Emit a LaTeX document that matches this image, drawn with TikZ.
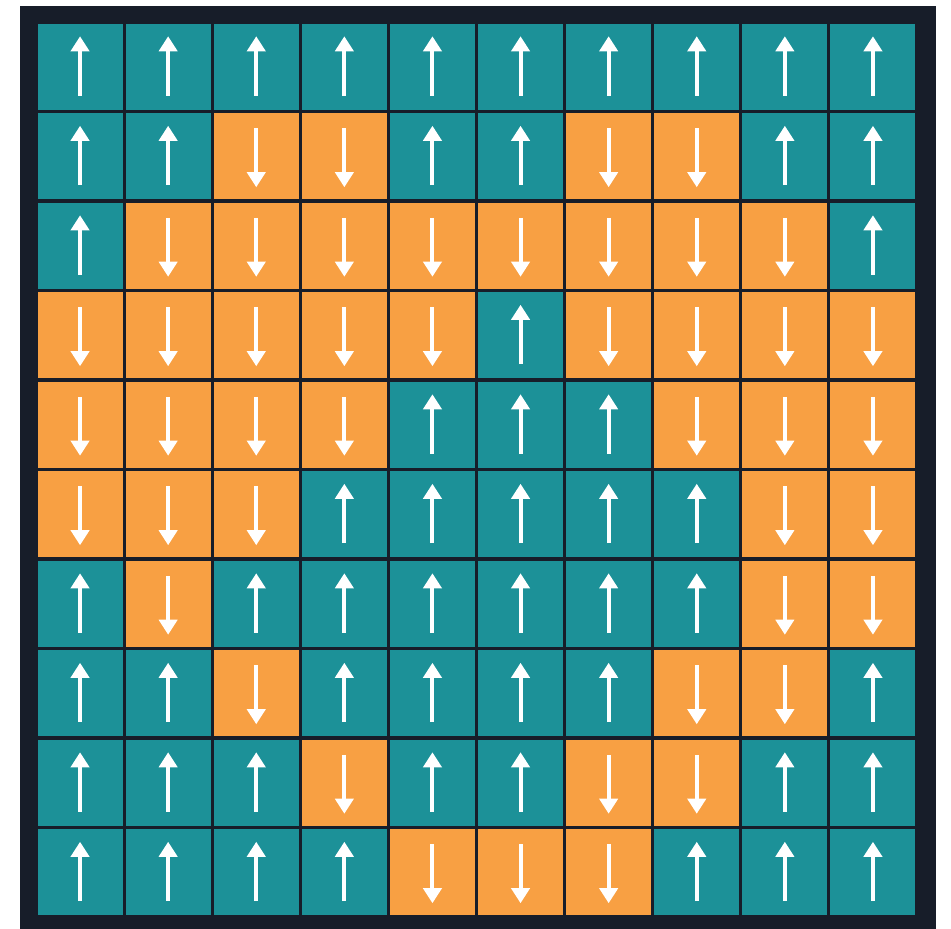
\documentclass[tikz,border=0pt]{standalone}
\usetikzlibrary{arrows.meta}
\definecolor{teal1}{HTML}{1C9198}
\definecolor{orange1}{HTML}{F8A043}
\definecolor{frame1}{HTML}{171D29}
\tikzset{
  cellbox/.style={draw=none, minimum width=1.70cm, minimum height=1.73cm, inner sep=0pt, outer sep=0pt},
  upcell/.style={cellbox, fill=teal1},
  downcell/.style={cellbox, fill=orange1},
  spin/.style={draw=white, line width=0.08cm, -{Triangle[width=0.36cm,length=0.30cm]}}
}
\begin{document}
\begin{tikzpicture}[x=0.02cm, y=-0.02cm]
\useasboundingbox (0,0) rectangle (951,929);
\fill[white] (0,0) rectangle (951,929);
\fill[frame1] (20,6) rectangle (936,929);
\foreach \row [count=\r] in {
  {1,1,1,1,1,1,1,1,1,1},
  {1,1,0,0,1,1,0,0,1,1},
  {1,0,0,0,0,0,0,0,0,1},
  {0,0,0,0,0,1,0,0,0,0},
  {0,0,0,0,1,1,1,0,0,0},
  {0,0,0,1,1,1,1,1,0,0},
  {1,0,1,1,1,1,1,1,0,0},
  {1,1,0,1,1,1,1,0,0,1},
  {1,1,1,0,1,1,0,0,1,1},
  {1,1,1,1,0,0,0,1,1,1}}{
  \foreach \s [count=\c] in \row {
    \pgfmathsetmacro{\cx}{36+88.1*(\c-0.5)}
    \pgfmathsetmacro{\cy}{22+89.5*(\r-0.5)}
    \ifnum\s=1
      \node[upcell] (c-\r-\c) at (\cx,\cy) {};
      \draw[spin] ([yshift=-0.58cm]c-\r-\c.center) -- ([yshift=0.61cm]c-\r-\c.center);
    \else
      \node[downcell] (c-\r-\c) at (\cx,\cy) {};
      \draw[spin] ([yshift=0.56cm]c-\r-\c.center) -- ([yshift=-0.62cm]c-\r-\c.center);
    \fi
  }
}
\end{tikzpicture}
\end{document}
